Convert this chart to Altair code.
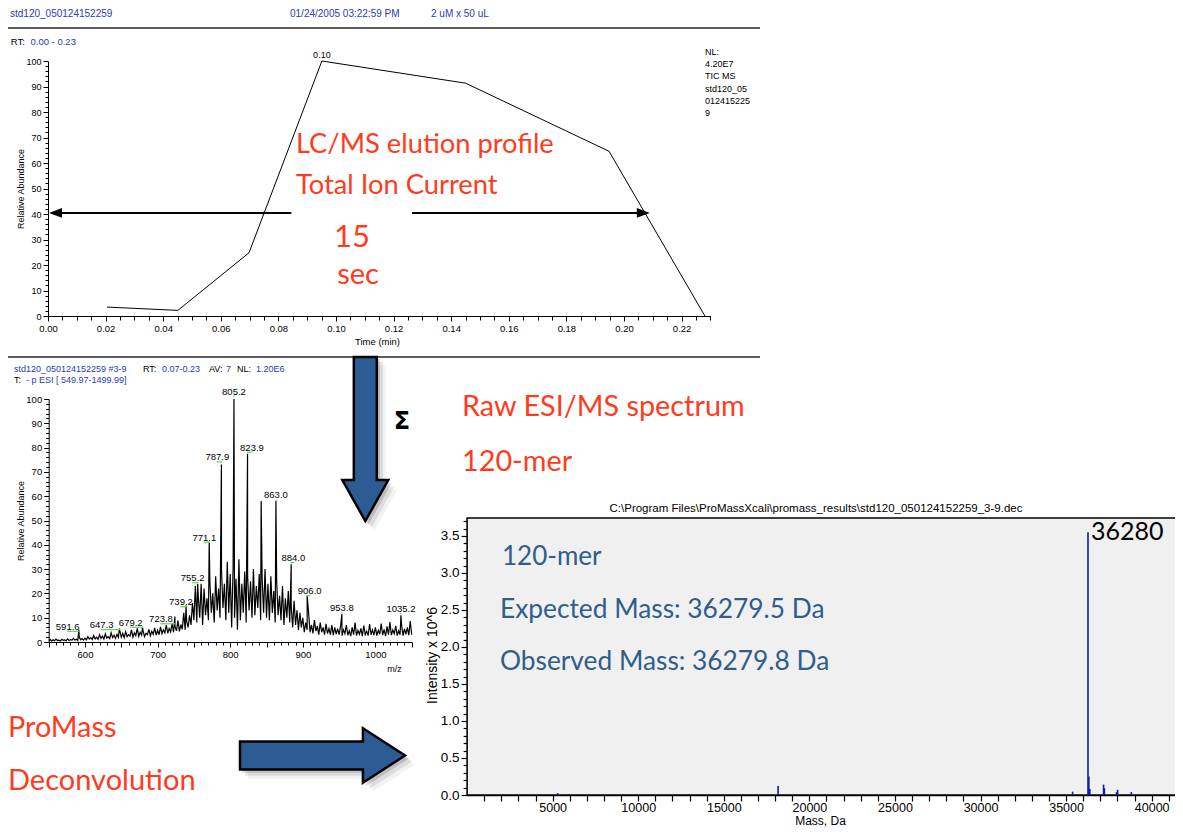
import altair as alt
import pandas as pd

# ---------------- values ----------------
# TIC chromatogram (top panel)
tic_time = [0.0205, 0.0451, 0.0698, 0.0951, 0.1450, 0.1948, 0.2281]
tic_abund = [3.5, 2.2, 24.8, 100.0, 91.3, 64.6, 0.0]
tic_label = ["0.10"]
tic_label_time = [0.0951]
tic_label_abund = [102.4]

# 15 s elution-width arrows (time in min, abundance %)
arrow_t0 = [0.0045, 0.1264]
arrow_t1 = [0.0845, 0.2050]
arrow_abund = [40.4, 40.4]
head_left_time = [0.0026]
head_right_time = [0.2067]

# raw ESI spectrum: noise profile sampled every 2 m/z from 550
spec_noise_mz0 = 550
spec_noise_step = 2
spec_noise = [
    0.6, 1.0, 0.4, 0.9, 0.5, 1.2, 0.6, 0.8, 0.4, 1.1, 0.7, 0.9, 0.5, 1.3, 0.6, 1.0, 0.7, 1.5, 0.8, 1.1, 0.6, 2.0, 0.9, 1.4, 0.8,
    1.6, 0.9, 2.2, 1.2, 1.8, 1.0, 2.6, 1.3, 2.0, 1.1, 3.0, 1.5, 2.4, 1.2, 3.4, 1.6, 2.2, 1.4, 3.8, 1.8, 2.8, 1.5, 3.2, 1.9, 4.6,
    2.0, 3.6, 1.8, 4.2, 2.2, 3.0, 2.4, 5.0, 2.0, 3.8, 2.6, 5.6, 2.3, 4.0, 2.8, 4.6, 2.2, 3.6, 3.0, 5.2, 2.6, 4.4, 3.2, 5.8, 2.8,
    4.8, 3.0, 6.2, 3.4, 5.0, 3.8, 7.0, 3.6, 5.6, 4.2, 7.6, 4.0, 6.4, 4.6, 8.8, 4.4, 7.2, 5.2, 12.0, 5.0, 8.6, 6.0, 11.0, 7.0, 16.0,
    9.0, 23.0, 8.0, 19.0, 10.0, 24.0, 7.0, 22.0, 11.0, 18.0, 9.0, 25.0, 12.0, 20.0, 8.0, 27.0, 13.0, 22.0, 10.0, 30.0, 14.0, 24.0, 9.0, 33.0, 12.0,
    28.0, 6.0, 31.0, 10.0, 26.0, 5.0, 34.0, 9.0, 24.0, 12.0, 29.0, 8.0, 27.0, 13.0, 25.0, 10.0, 30.0, 11.0, 23.0, 14.0, 28.0, 9.0, 26.0, 12.0, 30.0,
    10.0, 24.0, 9.0, 27.0, 12.0, 21.0, 8.0, 25.0, 11.0, 19.0, 9.0, 23.0, 7.0, 18.0, 10.0, 21.0, 8.0, 15.0, 6.0, 17.0, 7.0, 13.0, 5.0, 12.0, 6.0,
    10.0, 4.0, 8.0, 5.0, 12.0, 4.0, 7.0, 3.5, 9.0, 4.5, 6.5, 3.0, 8.0, 4.0, 6.0, 3.0, 7.5, 3.5, 5.5, 3.0, 7.0, 2.8, 6.0, 3.2, 5.5,
    3.0, 6.5, 2.6, 5.0, 3.4, 7.0, 2.8, 4.6, 2.4, 6.0, 3.0, 8.0, 2.6, 4.8, 3.2, 5.6, 2.4, 6.8, 3.0, 4.4, 2.6, 7.4, 3.0, 5.0, 2.8,
    6.0, 2.6, 4.8, 3.2, 7.6, 2.8, 5.2, 2.4, 6.4, 3.0, 8.2, 2.8, 5.0, 3.4, 6.6, 2.6, 4.6, 3.0, 7.2, 2.6, 5.4, 3.2, 6.0, 2.8, 8.6,
    3.0,
]
spec_peak_mz = [591.6, 647.3, 679.2, 723.8, 739.2, 755.2, 771.1, 787.9, 805.2, 823.9, 842.6, 863.0, 884.0, 906.0, 953.8, 1035.2]
spec_peak_int = [5.0, 5.5, 6.0, 10.5, 15.0, 24.0, 41.0, 73.0, 100.0, 77.5, 58.0, 58.0, 32.0, 19.0, 11.5, 11.0]

# peak labels of the spectrum
lab_text = ["591.6", "647.3", "679.2", "723.8", "739.2", "755.2", "771.1", "787.9", "805.2",
            "823.9", "863.0", "884.0", "906.0", "953.8", "1035.2"]
lab_peak = [591.6, 647.3, 679.2, 723.8, 739.2, 755.2, 771.1, 787.9, 805.2, 823.9, 863.0, 884.0, 906.0, 953.8, 1035.2]
lab_x = [576.2, 623.0, 663.0, 704.7, 732.2, 748.3, 764.3, 782.2, 805.2, 830.0, 863.0, 887.0, 909.5, 953.8, 1035.2]
lab_y = [6.3, 7.0, 8.0, 9.4, 16.4, 26.3, 43.0, 76.0, 103.0, 80.0, 60.3, 34.6, 21.0, 14.0, 13.6]

# ProMass deconvolution (mass in Da, intensity in 10^6)
dec_mass = [2950, 5290, 18170, 35380, 36280, 36330, 36390, 37190, 37240, 37950, 38010, 38810]
dec_int = [0.01, 0.025, 0.12, 0.045, 3.55, 0.25, 0.08, 0.14, 0.09, 0.04, 0.07, 0.04]
dec_top_label = ["36280"]
dec_top_mass = [36280]
dec_top_int = [3.55]

# ---------------- styling ----------------
SANS = "Liberation Sans"
HUM = "Lato"
RED = "#FF3B1D"
HDR_BLUE = "#2A3CB5"
NOTE_BLUE = "#2F5D8C"
ARROW_BLUE = "#2D5B93"
DEC_BLUE = "#0D1F9E"
W, H = 1167, 819

TOP_X = dict(domain=[0, 0.23], range=[40.0, 702.4])
TOP_Y = dict(domain=[0, 100], range=[308.0, 53.0])
SPEC_X = dict(domain=[550, 1050], range=[40.7, 403.7])
SPEC_Y = dict(domain=[0, 100], range=[634.0, 391.0])
DEC_X = dict(domain=[0, 41364], range=[459.1, 1167.0])
DEC_Y = dict(domain=[0, 3.743], range=[787.0, 510.0])


def sc(g):
    return alt.Scale(domain=g["domain"], range=g["range"], nice=False, zero=False)


def ax(**kw):
    base = dict(grid=False, labelOverlap=False, labelFlush=False, domainColor="black",
                tickColor="black", labelColor="black", titleColor="black",
                titleFontWeight="normal", labelFont=SANS, titleFont=SANS,
                titleBaseline="middle", titleAlign="center", labelPadding=2)
    base.update(kw)
    return alt.Axis(**base)


one = pd.DataFrame({"t": [""]})


def txt(s, x, y, size, color="black", font=HUM, align="left", weight="normal"):
    return alt.Chart(pd.DataFrame({"t": [s]})).mark_text(
        font=font, fontSize=size, color=color, align=align, baseline="middle", fontWeight=weight
    ).encode(x=alt.value(x - 8), y=alt.value(y - 8), text="t:N")


# ---------------- axes ----------------
top_x_axis = ax(orient="bottom", offset=308 - H, values=[i * 0.005 for i in range(47)],
                labelExpr="round(datum.value*1000) % 20 == 0 ? format(datum.value, '.2f') : ''",
                tickSize={"condition": {"test": "round(datum.value*1000) % 20 == 0", "value": 5}, "value": 4},
                labelFontSize=9.5, title="Time (min)", titleFontSize=9.5, titleX=369, titleY=25)
top_y_axis = ax(orient="left", offset=-40, values=list(range(0, 101, 2)),
                labelExpr="datum.value % 10 == 0 ? format(datum.value, 'd') : ''",
                tickSize={"condition": {"test": "datum.value % 10 == 0", "value": 5}, "value": 3},
                labelFontSize=9, title="Relative Abundance", titleFontSize=9,
                titleX=-28, titleY=180.5, titleAngle=270)
spec_x_axis = ax(orient="bottom", offset=634 - H, values=list(range(550, 1051, 10)),
                 labelExpr="datum.value % 100 == 0 ? format(datum.value, 'd') : ''",
                 tickSize={"condition": {"test": "datum.value % 50 == 0", "value": 5}, "value": 3},
                 labelFontSize=9.5, title="m/z", titleFontSize=9, titleX=386, titleY=26)
spec_y_axis = ax(orient="left", offset=-40.7, values=list(range(0, 101, 2)),
                 labelExpr="datum.value % 10 == 0 ? format(datum.value, 'd') : ''",
                 tickSize={"condition": {"test": "datum.value % 10 == 0", "value": 5}, "value": 3},
                 labelFontSize=9.5, title="Relative Abundance", titleFontSize=9,
                 titleX=-27.75, titleY=512.5, titleAngle=270)
dec_x_axis = ax(orient="bottom", offset=787 - H, values=list(range(1000, 41001, 1000)),
                labelExpr="datum.value % 5000 == 0 ? format(datum.value, 'd') : ''",
                tickSize=6, tickWidth=1.2, domainWidth=1.5, labelFontSize=12.5, labelPadding=0,
                title="Mass, Da", titleFontSize=12, titleX=812, titleY=25.5)
dec_y_axis = ax(orient="left", offset=-459.1, values=[i / 10 for i in range(38)],
                labelExpr="round(datum.value*10) % 5 == 0 ? format(datum.value, '.1f') : ''",
                tickSize={"condition": {"test": "round(datum.value*10) % 5 == 0", "value": 6}, "value": 4},
                tickWidth=1.2, domainWidth=1.5, labelFontSize=13.5,
                title="Intensity x 10^6", titleFontSize=14, titleX=-35, titleY=647, titleAngle=270)

# ---------------- data frames ----------------
df_tic = pd.DataFrame({"time": tic_time, "abund": tic_abund})
df_tic_lab = pd.DataFrame({"t": tic_label, "time": tic_label_time, "abund": tic_label_abund})
df_arr = pd.DataFrame({"t0": arrow_t0, "t1": arrow_t1, "a": arrow_abund})
df_hl = pd.DataFrame({"time": head_left_time, "a": [arrow_abund[0]]})
df_hr = pd.DataFrame({"time": head_right_time, "a": [arrow_abund[1]]})
spec_mz = [spec_noise_mz0 + spec_noise_step * i for i in range(len(spec_noise))] + spec_peak_mz
spec_int = spec_noise + spec_peak_int
df_spec = pd.DataFrame({"mz": spec_mz, "inten": spec_int}).sort_values("mz")
df_lab = pd.DataFrame({"t": lab_text, "x": lab_x, "y": lab_y,
                       "g0": [min(a, b) - 1 for a, b in zip(lab_x, lab_peak)],
                       "g1": [max(a, b) + 1 for a, b in zip(lab_x, lab_peak)],
                       "gy": [v - 1.9 for v in lab_y]})
df_dec = pd.DataFrame({"mass": dec_mass, "inten": dec_int, "zero": [0.0] * len(dec_mass)})
df_dec_lab = pd.DataFrame({"t": dec_top_label, "mass": dec_top_mass, "inten": dec_top_int})

layers = []

# deconvolution plot background
layers.append(alt.Chart(one).mark_rect(fill="#F0F0F0", stroke="black", strokeWidth=1.5).encode(
    x=alt.value(459.1), x2=alt.value(1185), y=alt.value(510), y2=alt.value(787)))

# header separator lines
for yy in (28, 357):
    layers.append(alt.Chart(one).mark_rule(color="#5E5E5E", strokeWidth=2).encode(
        x=alt.value(0), x2=alt.value(752), y=alt.value(yy - 8)))

# TIC
layers.append(alt.Chart(df_tic).mark_line(color="black", strokeWidth=1).encode(
    x=alt.X("time:Q", scale=sc(TOP_X), axis=top_x_axis),
    y=alt.Y("abund:Q", scale=sc(TOP_Y), axis=top_y_axis)))
layers.append(alt.Chart(df_tic_lab).mark_text(font=SANS, fontSize=9, color="black").encode(
    x=alt.X("time:Q", scale=sc(TOP_X), axis=None),
    y=alt.Y("abund:Q", scale=sc(TOP_Y), axis=None), text="t:N"))
layers.append(alt.Chart(df_arr).mark_rule(color="black", strokeWidth=2).encode(
    x=alt.X("t0:Q", scale=sc(TOP_X), axis=None), x2="t1:Q",
    y=alt.Y("a:Q", scale=sc(TOP_Y), axis=None)))
layers.append(alt.Chart(df_hl).mark_point(shape="M-1,0L1,-0.75L1,0.75Z", filled=True, color="black",
                                          opacity=1, size=169).encode(
    x=alt.X("time:Q", scale=sc(TOP_X), axis=None), y=alt.Y("a:Q", scale=sc(TOP_Y), axis=None)))
layers.append(alt.Chart(df_hr).mark_point(shape="M1,0L-1,-0.75L-1,0.75Z", filled=True, color="black",
                                          opacity=1, size=169).encode(
    x=alt.X("time:Q", scale=sc(TOP_X), axis=None), y=alt.Y("a:Q", scale=sc(TOP_Y), axis=None)))

# raw spectrum
layers.append(alt.Chart(df_spec).mark_line(color="black", strokeWidth=1.2).encode(
    x=alt.X("mz:Q", scale=sc(SPEC_X), axis=spec_x_axis),
    y=alt.Y("inten:Q", scale=sc(SPEC_Y), axis=spec_y_axis)))
layers.append(alt.Chart(df_lab).mark_rule(color="#5CD65C", strokeWidth=1.2).encode(
    x=alt.X("g0:Q", scale=sc(SPEC_X), axis=None), x2="g1:Q",
    y=alt.Y("gy:Q", scale=sc(SPEC_Y), axis=None)))
layers.append(alt.Chart(df_lab).mark_text(font=SANS, fontSize=9.5, color="black").encode(
    x=alt.X("x:Q", scale=sc(SPEC_X), axis=None),
    y=alt.Y("y:Q", scale=sc(SPEC_Y), axis=None), text="t:N"))

# deconvolution
layers.append(alt.Chart(df_dec).mark_rule(color=DEC_BLUE, strokeWidth=1.6).encode(
    x=alt.X("mass:Q", scale=sc(DEC_X), axis=dec_x_axis),
    y=alt.Y("inten:Q", scale=sc(DEC_Y), axis=dec_y_axis), y2="zero:Q"))
layers.append(alt.Chart(df_dec_lab).mark_text(font=HUM, fontSize=25, color="black", align="left", dx=3).encode(
    x=alt.X("mass:Q", scale=sc(DEC_X), axis=None),
    y=alt.Y("inten:Q", scale=sc(DEC_Y), axis=None), text="t:N"))

# header texts
layers += [
    txt("std120_050124152259", 10, 13.5, 10, HDR_BLUE, SANS),
    txt("01/24/2005 03:22:59 PM", 290, 13.5, 10, HDR_BLUE, SANS),
    txt("2 uM x 50 uL", 431, 13.5, 10, HDR_BLUE, SANS),
    txt("RT:", 10.7, 42, 9.5, "black", SANS),
    txt("0.00 - 0.23", 30.5, 42, 9.5, HDR_BLUE, SANS),
]
for k, s in enumerate(["NL:", "4.20E7", "TIC  MS", "std120_05", "012415225", "9"]):
    layers.append(txt(s, 705, 52 + 12.2 * k, 9, "black", SANS))
layers += [
    txt("std120_050124152259 #3-9", 14, 369, 9, HDR_BLUE, SANS),
    txt("RT:", 143, 369, 9, "black", SANS),
    txt("0.07-0.23", 162, 369, 9, HDR_BLUE, SANS),
    txt("AV:", 209, 369, 9, "black", SANS),
    txt("7", 226, 369, 9, HDR_BLUE, SANS),
    txt("NL:", 237, 369, 9, "black", SANS),
    txt("1.20E6", 256, 369, 9, HDR_BLUE, SANS),
    txt("T:", 14, 380, 9, "black", SANS),
    txt("- p ESI [ 549.97-1499.99]", 26, 380, 9, HDR_BLUE, SANS),
    txt(r"C:\Program Files\ProMassXcali\promass_results\std120_050124152259_3-9.dec",
        816, 509, 11.5, "black", SANS, "center"),
]

# annotations
layers += [
    txt("LC/MS elution profile", 296, 145, 27.3, RED),
    txt("Total Ion Current", 296, 186, 27.3, RED),
    txt("15", 352, 238, 31, RED, align="center"),
    txt("sec", 358, 275, 29, RED, align="center"),
    txt("Raw ESI/MS spectrum", 462, 407, 28.8, RED),
    txt("120-mer", 462, 462, 28.8, RED),
    txt("ProMass", 8, 728, 28.8, RED),
    txt("Deconvolution", 8, 781, 29, RED),
    txt("Σ", 402, 422, 24, "black", "DejaVu Sans", "center", "bold"),
    txt("120-mer", 502, 557, 26, NOTE_BLUE),
    txt("Expected Mass: 36279.5 Da", 500, 610, 26.3, NOTE_BLUE),
    txt("Observed Mass: 36279.8 Da", 500, 662, 26.3, NOTE_BLUE),
]

# block arrows with soft shadow
DOWN = "M-0.14,-1L0.14,-1L0.14,0.5L0.28,0.5L0,1L-0.28,0.5L-0.14,0.5Z"
RIGHT = "M-1,-0.17L0.49,-0.17L0.49,-0.33L1,0L0.49,0.33L0.49,0.17L-1,0.17Z"
for shape, cx, cy, side in ((DOWN, 365.3, 439, 164), (RIGHT, 322.5, 755.5, 165)):
    for d, op in ((9, 0.05), (6, 0.09), (3, 0.14)):
        layers.append(alt.Chart(one).mark_point(shape=shape, filled=True, fill="black", strokeWidth=0,
                                                opacity=op, size=(side + 2) ** 2).encode(
            x=alt.value(cx - 8 + d), y=alt.value(cy - 8 + d)))
    layers.append(alt.Chart(one).mark_point(shape=shape, filled=True, fill=ARROW_BLUE, stroke="black",
                                            strokeWidth=2.5, opacity=1, size=side ** 2).encode(
        x=alt.value(cx - 8), y=alt.value(cy - 8)))

chart = alt.layer(*layers).resolve_scale(
    x="independent", y="independent"
).resolve_axis(
    x="independent", y="independent"
).properties(
    width=W, height=H, autosize=alt.AutoSizeParams(type="none"), padding=0, background="white"
).configure_view(strokeWidth=0, stroke=None)

chart.save("out.html", embed_options={"renderer": "svg", "actions": False})
